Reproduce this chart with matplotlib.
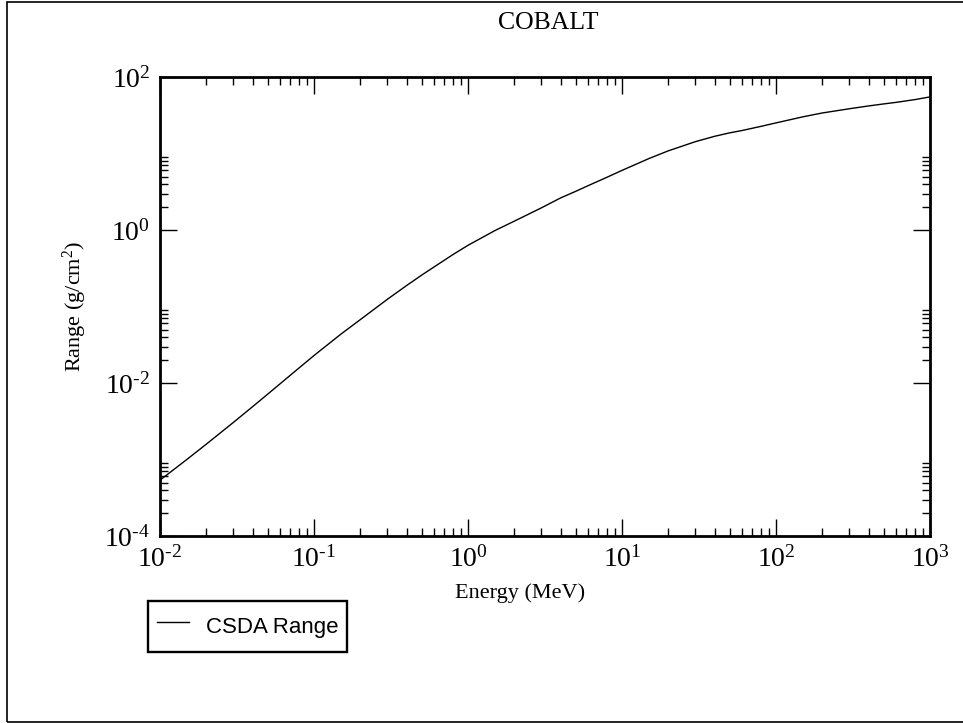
import matplotlib
matplotlib.use("Agg")
import matplotlib.pyplot as plt
from matplotlib.patches import Rectangle
from matplotlib.ticker import FixedLocator, FuncFormatter
import numpy as np

# CSDA range of electrons in cobalt
energia = [0.01, 0.015, 0.02, 0.03, 0.04, 0.05, 0.06, 0.08, 0.1, 0.15, 0.2, 0.3, 0.4,
           0.5, 0.6, 0.8, 1.0, 1.5, 2.0, 3.0, 4.0, 5.0, 6.0, 8.0, 10.0, 15.0, 20.0, 30.0,
           40.0, 50.0, 60.0, 80.0, 100.0, 150.0, 200.0, 300.0, 400.0, 500.0, 600.0,
           800.0, 1000.0]
rango = [5.37e-4, 1.007e-3, 1.589e-3, 3.06e-3, 4.92e-3, 7.14e-3, 9.70e-3, 0.01574,
         0.02286, 0.04375, 0.06745, 0.1245, 0.1884, 0.2570, 0.3273, 0.4786, 0.631,
         0.986, 1.306, 1.950, 2.630, 3.199, 3.784, 4.898, 6.012, 8.610, 10.84, 14.29,
         16.79, 18.62, 19.95, 22.65, 25.12, 30.20, 33.88, 38.46, 41.88, 44.46, 46.56,
         50.70, 54.95]

titulo = "COBALT"
etiqueta_x = "Energy (MeV)"
etiqueta_y = "Range (g/cm$^2$)"
leyenda = "CSDA Range"

plt.rcParams["font.family"] = ["Liberation Serif", "DejaVu Serif"]
plt.rcParams["mathtext.fontset"] = "custom"
plt.rcParams["mathtext.rm"] = "Liberation Serif"
plt.rcParams["mathtext.it"] = "Liberation Serif:italic"


def potencia(v, pos):
    e = int(round(np.log10(v)))
    if e < 0:
        return r"$10^{\text{-}%d}$" % (-e)
    return r"$10^{%d}$" % e


fig = plt.figure(figsize=(9.63, 7.23), dpi=100)
ax = fig.add_axes([160 / 963, 1 - 536 / 723, 770 / 963, 459 / 723])

line, = ax.plot(energia, rango, color="black", linewidth=1.0, label=leyenda)

ax.set_xscale("log")
ax.set_yscale("log")
ax.set_xlim(1e-2, 1e3)
ax.set_ylim(1e-4, 1e2)

# y: major cada 2 decadas, minor solo en la decada inferior de cada par
ax.yaxis.set_major_locator(FixedLocator([1e-4, 1e-2, 1e0, 1e2]))
ax.yaxis.set_minor_locator(FixedLocator([k * 10.0 ** e for e in (-4, -2, 0) for k in range(2, 10)]))
ax.xaxis.set_major_formatter(FuncFormatter(potencia))
ax.yaxis.set_major_formatter(FuncFormatter(potencia))

for s in ax.spines.values():
    s.set_linewidth(2.0)

ax.tick_params(which="both", direction="in", top=True, right=True, width=1.0)
ax.tick_params(which="major", length=12.5, labelsize=20, pad=7)
ax.tick_params(which="minor", length=6)

ax.set_xlabel(etiqueta_x, fontsize=16)
ax.set_ylabel(etiqueta_y, fontsize=16)
ax.xaxis.set_label_coords(0.467, -0.103)
ax.yaxis.set_label_coords(-0.092, 0.5)

fig.text(548 / 963, 1 - 23 / 723, titulo, ha="center", va="center", fontsize=18.5)

leg = ax.legend(handles=[line], loc="upper left",
                bbox_to_anchor=(148 / 963, 1 - 601 / 723), bbox_transform=fig.transFigure,
                fancybox=False, edgecolor="black", framealpha=1,
                prop={"family": "Liberation Sans", "size": 16},
                handlelength=1.44, handleheight=1.9, borderpad=0.4,
                handletextpad=0.77, borderaxespad=0)
leg.get_frame().set_linewidth(1.7)

# marco exterior de la pagina
fig.patches.append(Rectangle((7 / 963, 1 / 723), 1.0, 720 / 723, transform=fig.transFigure,
                             fill=False, edgecolor="black", linewidth=1.2))

fig.savefig("out.png", dpi=100)
